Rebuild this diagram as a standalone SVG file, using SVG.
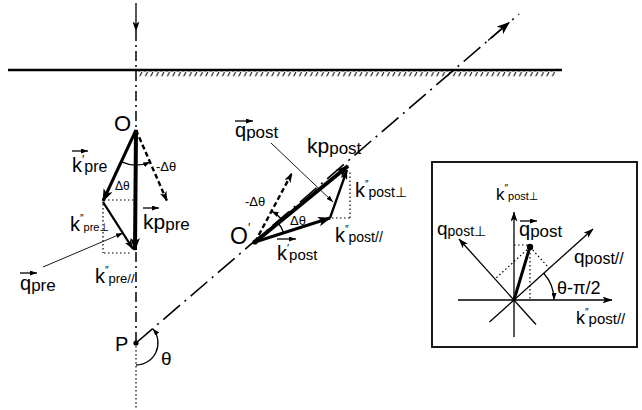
<svg xmlns="http://www.w3.org/2000/svg" width="642" height="410" viewBox="0 0 642 410">
<defs>
<style>
.t{font-family:"Liberation Sans",Arial,"DejaVu Sans",sans-serif;fill:#000}
.ln{fill:none;stroke:#000;stroke-width:1.3}
.dd{fill:none;stroke:#000;stroke-width:1.5;stroke-dasharray:10 4 2 4}
.dd2{fill:none;stroke:#000;stroke-width:1.6;stroke-dasharray:22 6 2 6}
.dot{fill:none;stroke:#000;stroke-width:1.2;stroke-dasharray:1.5 2.5}
.v4{fill:none;stroke:#000;stroke-width:4}
.v3{fill:none;stroke:#000;stroke-width:3}
.v2{fill:none;stroke:#000;stroke-width:2.3}
.vd{fill:none;stroke:#000;stroke-width:2.4;stroke-dasharray:5 3}
.thin{fill:none;stroke:#000;stroke-width:0.9}
</style>
<marker id="ah" viewBox="0 0 12 9" refX="11" refY="4.5" markerWidth="13" markerHeight="10" markerUnits="userSpaceOnUse" orient="auto"><path d="M0,0 L12,4.5 L0,9 L3,4.5 z"/></marker>
<marker id="am" viewBox="0 0 10 7" refX="9.5" refY="3.5" markerWidth="10" markerHeight="7" markerUnits="userSpaceOnUse" orient="auto"><path d="M0,0 L10,3.5 L0,7 L2.5,3.5 z"/></marker>
<marker id="as" viewBox="0 0 7 5" refX="7" refY="2.5" markerWidth="7" markerHeight="5" markerUnits="userSpaceOnUse" orient="auto"><path d="M0,0 L7,2.5 L0,5 z"/></marker>
<pattern id="hatch" x="0" y="0" width="5.5" height="6" patternUnits="userSpaceOnUse"><path d="M4.5,0 L1.5,6" stroke="#000" stroke-width="1"/></pattern>
</defs>
<rect width="642" height="410" fill="#fff"/>

<g id="surface">
<path d="M8,70 H562" stroke="#000" stroke-width="2.6"/>
<rect x="138" y="71.3" width="418" height="5" fill="url(#hatch)"/>
</g>

<g id="connectors">
<path class="ln" d="M136,3 V31" marker-end="url(#am)"/>
<path class="dd" d="M136,31 V130"/>
<path class="dd" d="M136,252 V343"/>
<path class="dot" d="M136,346 V410"/>
<path class="dd2" d="M136,343 L519,14"/>
<path class="ln" d="M488,40.6 L509,22.6" marker-end="url(#ah)"/>
<path class="ln" d="M136,365 A22,22 0 0 0 152.7,328.7" marker-end="url(#as)"/>

<path class="v4" d="M136,130 L135,250" marker-end="url(#ah)"/>
<path class="v3" d="M136,130 L103,201" marker-end="url(#ah)"/>
<path class="v2" d="M103,202 L133,249" marker-end="url(#am)"/>
<path class="vd" d="M136,130 L167,201" marker-end="url(#am)"/>
<path class="dot" d="M104,200 H134"/>
<path class="dot" d="M103,204 V253"/>
<path class="dot" d="M104,253 H132"/>
<path class="ln" d="M121.1,161.6 A35,35 0 0 0 150.2,162" marker-end="url(#as)"/>
<path class="thin" d="M43,267 L123,233" marker-end="url(#as)"/>

<path class="v4" d="M255,242 L348,166" marker-end="url(#ah)"/>
<path class="v3" d="M255,242 L330,218" marker-end="url(#ah)"/>
<path class="v2" d="M330,218 L347,170" marker-end="url(#am)"/>
<path class="vd" d="M255,242 L292,173" marker-end="url(#am)"/>
<path class="dot" d="M332,218 H350"/>
<path class="dot" d="M350,218 V172"/>
<path class="ln" d="M278.2,223 A30,30 0 0 1 283.6,232.8"/>
<path class="ln" d="M282.1,219.8 A35,35 0 0 0 271.6,211.2" marker-end="url(#as)"/>
<path class="thin" d="M271,143 L333,202" marker-end="url(#as)"/>
</g>

<g id="node-O">
<text class="t" x="114" y="131" font-size="22">O</text>
</g>
<g id="label-kpre1">
<path class="ln" d="M72,151 H88" marker-end="url(#as)"/>
<text class="t" x="72" y="172" font-size="20">k<tspan font-size="12" dy="-8">′</tspan><tspan font-size="16" dy="8">pre</tspan></text>
</g>
<g id="label-dtheta-pre">
<text class="t" x="115" y="190" font-size="12">Δθ</text>
<text class="t" x="156" y="171" font-size="13">-Δθ</text>
</g>
<g id="label-kppre">
<path class="ln" d="M143,208 H159" marker-end="url(#as)"/>
<text class="t" x="143" y="229" font-size="21">kp<tspan font-size="17" dy="1">pre</tspan></text>
</g>
<g id="label-kpre2perp">
<text class="t" x="70" y="231" font-size="20">k<tspan font-size="10" dy="-9">″</tspan><tspan font-size="11" dy="9">pre⊥</tspan></text>
</g>
<g id="label-kpre2par">
<text class="t" x="95" y="283" font-size="20">k<tspan font-size="10" dy="-9">″</tspan><tspan font-size="13" dy="9">pre//</tspan></text>
</g>
<g id="label-qpre">
<path class="ln" d="M20,273 H37" marker-end="url(#as)"/>
<text class="t" x="20" y="290" font-size="20">q<tspan font-size="17" dy="1">pre</tspan></text>
</g>

<g id="node-P">
<circle cx="136" cy="343" r="2.6"/>
<text class="t" x="115" y="351" font-size="20">P</text>
<text class="t" x="161" y="365" font-size="19">θ</text>
</g>

<g id="node-Oprime">
<circle cx="255" cy="242" r="2.6"/>
<text class="t" x="230" y="244" font-size="23">O<tspan font-size="12" dy="-12">′</tspan></text>
</g>
<g id="label-qpost">
<path class="ln" d="M235,121 H253" marker-end="url(#as)"/>
<text class="t" x="235" y="137" font-size="20">q<tspan font-size="17" dy="1">post</tspan></text>
</g>
<g id="label-kppost">
<text class="t" x="307" y="153" font-size="21">kp<tspan font-size="17" dy="1">post</tspan></text>
</g>
<g id="label-kpost2perp">
<text class="t" x="355" y="197" font-size="20">k<tspan font-size="10" dy="-9">″</tspan><tspan font-size="14" dy="9">post⊥</tspan></text>
</g>
<g id="label-kpost2par">
<text class="t" x="335" y="242" font-size="20">k<tspan font-size="10" dy="-9">″</tspan><tspan font-size="14" dy="9">post//</tspan></text>
</g>
<g id="label-kpost1">
<path class="ln" d="M277,239 H296" marker-end="url(#as)"/>
<text class="t" x="277" y="260" font-size="20">k<tspan font-size="11" dy="-8">′</tspan><tspan font-size="15" dy="8">post</tspan></text>
</g>
<g id="label-dtheta-post">
<text class="t" x="245" y="206" font-size="13">-Δθ</text>
<text class="t" x="290" y="225" font-size="13">Δθ</text>
</g>

<g id="inset">
<rect x="432" y="162" width="205" height="185" fill="none" stroke="#000" stroke-width="1.8"/>
<path class="ln" d="M458,300 H612" marker-end="url(#am)"/>
<path class="ln" d="M514,337 V212" marker-end="url(#am)"/>
<path class="ln" d="M489.5,322 L593,229" marker-end="url(#am)"/>
<path class="ln" d="M536,324.5 L459,239" marker-end="url(#am)"/>
<path class="v3" d="M514,300 L529,250"/>
<circle cx="530" cy="247" r="3.2"/>
<path class="dot" d="M514,245 H530"/>
<path class="dot" d="M530,249 V300"/>
<path class="dot" d="M530,247 L549,268"/>
<path class="dot" d="M530,247 L495,279"/>
<path class="ln" d="M543.7,273.2 A40,40 0 0 1 554,300" marker-end="url(#as)"/>
<text class="t" x="496" y="200" font-size="17">k<tspan font-size="10" dy="-8">″</tspan><tspan font-size="11" dy="8">post⊥</tspan></text>
<text class="t" x="437" y="235" font-size="19">q<tspan font-size="14" dy="1">post⊥</tspan></text>
<path class="ln" d="M520,221 H537" marker-end="url(#as)"/>
<text class="t" x="519" y="236" font-size="20">q<tspan font-size="17" dy="1">post</tspan></text>
<text class="t" x="574" y="263" font-size="19">q<tspan font-size="16" dy="1">post//</tspan></text>
<text class="t" x="557" y="294" font-size="18">θ-π/2</text>
<text class="t" x="576" y="324" font-size="18">k<tspan font-size="10" dy="-8">″</tspan><tspan font-size="15" dy="8">post//</tspan></text>
</g>
</svg>
